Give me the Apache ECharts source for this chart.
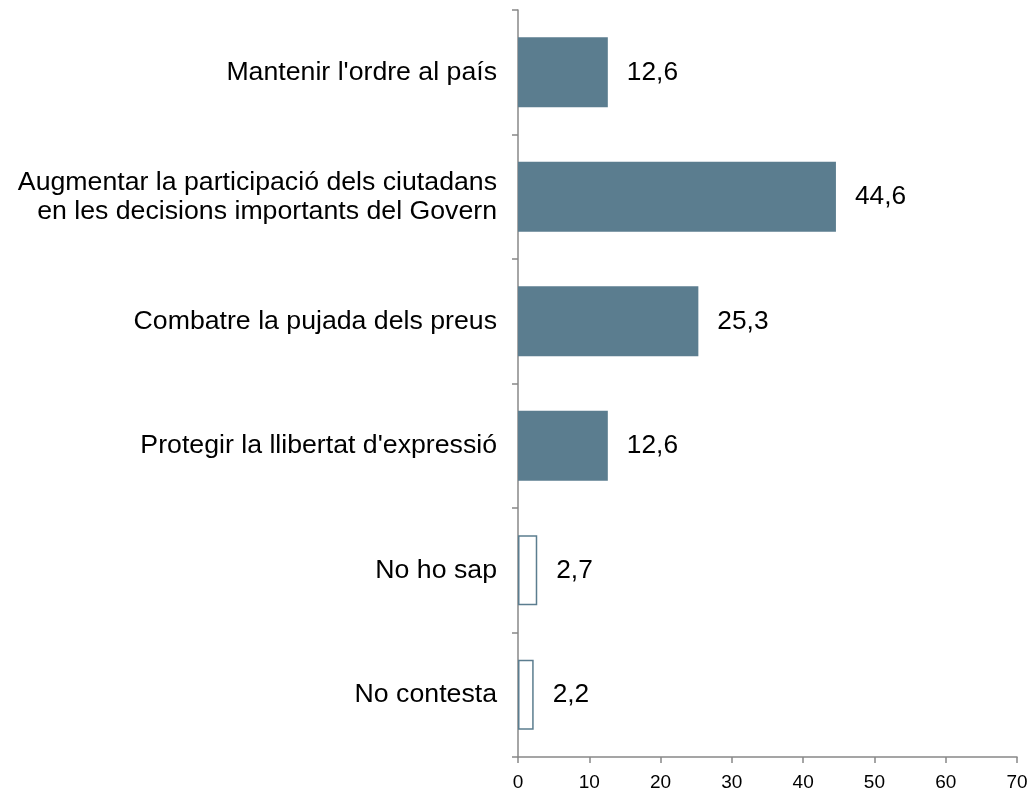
<!DOCTYPE html>
<html>
<head>
<meta charset="utf-8">
<script src="https://cdn.jsdelivr.net/npm/echarts@6/dist/echarts.min.js"></script>
<style>
  html, body { margin: 0; padding: 0; background: #fff; }
  #chart { width: 1031px; height: 792px; }
</style>
</head>
<body>
<div id="chart"></div>
<script>
// Categories, top to bottom
const categories = [
  "Mantenir l'ordre al país",
  "Augmentar la participació dels ciutadans\nen les decisions importants del Govern",
  "Combatre la pujada dels preus",
  "Protegir la llibertat d'expressió",
  "No ho sap",
  "No contesta"
];
// Percentages
const values = [12.6, 44.6, 25.3, 12.6, 2.7, 2.2];
// Which answers are non-responses (drawn as outlined bars)
const outlined = [false, false, false, false, true, true];
// Value axis ticks
const axisMin = 0, axisMax = 70, axisStep = 10;

const barColor = '#5B7D8F';
const font = '"Liberation Sans", Arial, sans-serif';

const chart = echarts.init(document.getElementById('chart'), null, { renderer: 'canvas' });

const seriesData = values.map((v, i) => ({
  value: v,
  itemStyle: outlined[i]
    ? { color: '#ffffff', borderColor: barColor, borderWidth: 1.5 }
    : { color: barColor }
}));

chart.setOption({
  animation: false,
  backgroundColor: '#ffffff',
  grid: { left: 518, right: 14, top: 10, bottom: 35, containLabel: false },
  xAxis: {
    type: 'value',
    min: axisMin,
    max: axisMax,
    interval: axisStep,
    axisLine: { show: true, lineStyle: { color: '#888888', width: 1.5 } },
    axisTick: { show: true, length: 6, lineStyle: { color: '#888888', width: 1.5 } },
    splitLine: { show: false },
    axisLabel: { color: '#000', fontFamily: font, fontSize: 19, margin: 16 }
  },
  yAxis: {
    type: 'category',
    inverse: true,
    data: categories,
    axisLine: { show: true, lineStyle: { color: '#888888', width: 1.5 } },
    axisTick: { show: true, length: 6, alignWithLabel: false, lineStyle: { color: '#888888', width: 1.5 } },
    axisLabel: {
      color: '#000', fontFamily: font, fontSize: 26.7, margin: 21,
      align: 'right', lineHeight: 29
    }
  },
  series: [{
    type: 'bar',
    data: seriesData,
    barWidth: 70,
    label: {
      show: true,
      position: 'right',
      distance: 19,
      color: '#000',
      fontFamily: font,
      fontSize: 26.3,
      formatter: p => String(p.value).replace('.', ',')
    }
  }]
});
</script>
</body>
</html>
